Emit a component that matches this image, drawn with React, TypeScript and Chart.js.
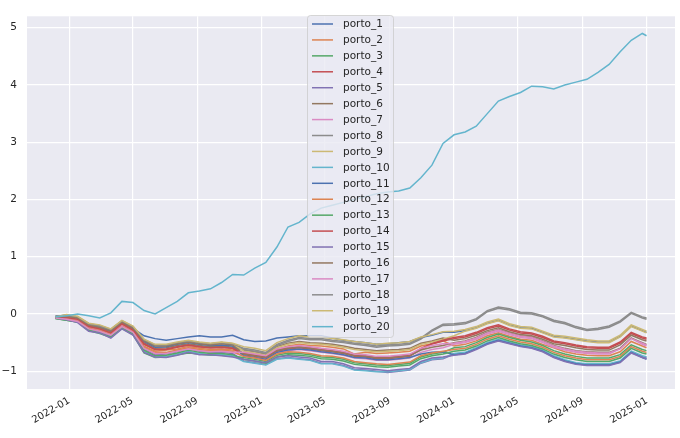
import { useEffect, useRef } from 'react';
import { Chart, registerables } from 'chart.js';

Chart.register(...registerables);

// sample dates (every 3 weeks)
const dates = [
  '2021-12-06', '2021-12-27', '2022-01-17', '2022-02-07', '2022-02-28', '2022-03-21', '2022-04-11', '2022-05-02',
  '2022-05-23', '2022-06-13', '2022-07-04', '2022-07-25', '2022-08-15', '2022-09-05', '2022-09-26', '2022-10-17',
  '2022-11-07', '2022-11-28', '2022-12-19', '2023-01-09', '2023-01-30', '2023-02-20', '2023-03-13', '2023-04-03',
  '2023-04-24', '2023-05-15', '2023-06-05', '2023-06-26', '2023-07-17', '2023-08-07', '2023-08-28', '2023-09-18',
  '2023-10-09', '2023-10-30', '2023-11-20', '2023-12-11', '2024-01-01', '2024-01-22', '2024-02-12', '2024-03-04',
  '2024-03-25', '2024-04-15', '2024-05-06', '2024-05-27', '2024-06-17', '2024-07-08', '2024-07-29', '2024-08-19',
  '2024-09-09', '2024-09-30', '2024-10-21', '2024-11-11', '2024-12-02', '2024-12-23', '2024-12-31',
];

const xTickDates = [
  '2022-01-01', '2022-05-01', '2022-09-01', '2023-01-01', '2023-05-01',
  '2023-09-01', '2024-01-01', '2024-05-01', '2024-09-01', '2025-01-01',
];
const xRange = ['2021-10-13', '2025-02-23'];
const yTicks = [-1, 0, 1, 2, 3, 4, 5];
const yRange = [-1.31, 5.2];

const names = [
  'porto_1', 'porto_2', 'porto_3', 'porto_4', 'porto_5', 'porto_6', 'porto_7', 'porto_8', 'porto_9', 'porto_10',
  'porto_11', 'porto_12', 'porto_13', 'porto_14', 'porto_15', 'porto_16', 'porto_17', 'porto_18', 'porto_19', 'porto_20',
];
const colors = [
  '#4C72B0', '#DD8452', '#55A868', '#C44E52', '#8172B3', '#937860', '#DA8BC3', '#8C8C8C', '#CCB974', '#64B5CD',
  '#4C72B0', '#DD8452', '#55A868', '#C44E52', '#8172B3', '#937860', '#DA8BC3', '#8C8C8C', '#CCB974', '#64B5CD',
];

const porto1 = [-0.05, -0.03, -0.06, -0.19, -0.22, -0.29, -0.13, -0.25, -0.38, -0.43, -0.46, -0.43, -0.40, -0.38, -0.40, -0.40, -0.37, -0.45,
  -0.48, -0.47, -0.42, -0.40, -0.38, -0.38, -0.38, -0.42, -0.46, -0.48, -0.50, -0.53, -0.52, -0.50, -0.48,
  -0.41, -0.37, -0.32, -0.32, -0.29, -0.24, -0.16, -0.11, -0.19, -0.24, -0.25, -0.32, -0.39, -0.41, -0.44, -0.47, -0.49, -0.49, -0.39, -0.21, -0.29, -0.32];
const porto2 = [-0.06, -0.06, -0.10, -0.23, -0.27, -0.34, -0.19, -0.29, -0.56, -0.65, -0.63, -0.61, -0.57, -0.60, -0.62, -0.61, -0.63, -0.68,
  -0.71, -0.75, -0.62, -0.56, -0.53, -0.55, -0.56, -0.58, -0.61, -0.70, -0.67, -0.69, -0.68, -0.67, -0.65, -0.56, -0.52, -0.47,
  -0.56, -0.53, -0.47, -0.38, -0.33, -0.39, -0.44, -0.46, -0.53, -0.59, -0.66, -0.70, -0.72, -0.73, -0.73, -0.66, -0.48, -0.56, -0.59];
const porto3 = [-0.08, -0.11, -0.14, -0.29, -0.34, -0.41, -0.25, -0.36, -0.68, -0.76, -0.75, -0.71, -0.68, -0.70, -0.72, -0.72, -0.74, -0.76,
  -0.79, -0.83, -0.72, -0.68, -0.69, -0.71, -0.75, -0.76, -0.79, -0.85, -0.87, -0.89, -0.90, -0.88, -0.86, -0.75, -0.70, -0.67,
  -0.59, -0.57, -0.50, -0.41, -0.35, -0.41, -0.46, -0.49, -0.55, -0.64, -0.70, -0.74, -0.77, -0.77, -0.77, -0.71, -0.54, -0.62, -0.64];
const porto4 = [-0.05, -0.03, -0.07, -0.20, -0.24, -0.31, -0.16, -0.26, -0.53, -0.62, -0.62, -0.58, -0.54, -0.57, -0.59, -0.58, -0.60, -0.71,
  -0.74, -0.77, -0.65, -0.61, -0.59, -0.61, -0.64, -0.66, -0.69, -0.74, -0.75, -0.78, -0.78, -0.76, -0.74, -0.60, -0.52, -0.47,
  -0.43, -0.40, -0.34, -0.26, -0.21, -0.28, -0.33, -0.35, -0.41, -0.49, -0.52, -0.56, -0.59, -0.60, -0.60, -0.51, -0.34, -0.42, -0.44];
const porto5 = [-0.07, -0.09, -0.12, -0.26, -0.31, -0.38, -0.22, -0.33, -0.61, -0.71, -0.70, -0.66, -0.61, -0.65, -0.67, -0.67, -0.69, -0.82,
  -0.85, -0.88, -0.78, -0.76, -0.78, -0.80, -0.86, -0.86, -0.90, -0.97, -0.98, -1.00, -1.02, -1.00, -0.98, -0.86, -0.80, -0.78,
  -0.70, -0.68, -0.60, -0.51, -0.45, -0.50, -0.55, -0.58, -0.64, -0.74, -0.81, -0.86, -0.88, -0.88, -0.88, -0.83, -0.66, -0.74, -0.76];
const porto6 = [-0.05, -0.04, -0.07, -0.20, -0.24, -0.31, -0.15, -0.26, -0.50, -0.60, -0.59, -0.55, -0.52, -0.55, -0.57, -0.56, -0.58, -0.63,
  -0.66, -0.70, -0.57, -0.51, -0.48, -0.50, -0.51, -0.53, -0.56, -0.60, -0.62, -0.64, -0.63, -0.62, -0.60, -0.51, -0.47, -0.42,
  -0.46, -0.43, -0.37, -0.29, -0.24, -0.31, -0.36, -0.38, -0.44, -0.52, -0.55, -0.59, -0.62, -0.63, -0.63, -0.54, -0.37, -0.45, -0.47];
const porto7 = [-0.05, -0.07, -0.10, -0.24, -0.29, -0.36, -0.20, -0.31, -0.59, -0.69, -0.68, -0.64, -0.59, -0.63, -0.65, -0.65, -0.67, -0.74,
  -0.77, -0.80, -0.68, -0.64, -0.62, -0.64, -0.67, -0.69, -0.72, -0.77, -0.78, -0.81, -0.81, -0.79, -0.77, -0.67, -0.62, -0.59,
  -0.53, -0.50, -0.44, -0.35, -0.30, -0.36, -0.41, -0.43, -0.50, -0.58, -0.63, -0.67, -0.69, -0.70, -0.70, -0.60, -0.42, -0.53, -0.56];
const porto8 = [-0.05, -0.03, -0.06, -0.18, -0.21, -0.28, -0.13, -0.23, -0.46, -0.55, -0.55, -0.51, -0.48, -0.51, -0.53, -0.51, -0.53, -0.62,
  -0.65, -0.69, -0.55, -0.48, -0.43, -0.45, -0.45, -0.48, -0.50, -0.53, -0.55, -0.58, -0.56, -0.55, -0.53,
  -0.44, -0.30, -0.20, -0.19, -0.17, -0.10, 0.04, 0.10, 0.07, 0.01, 0.00, -0.05, -0.13, -0.17, -0.24, -0.29, -0.27, -0.23, -0.14, 0.01, -0.07, -0.09];
const porto9 = [-0.04, -0.02, -0.05, -0.17, -0.20, -0.27, -0.12, -0.22, -0.45, -0.54, -0.54, -0.50, -0.47, -0.50, -0.52, -0.50, -0.52, -0.65,
  -0.68, -0.72, -0.59, -0.53, -0.50, -0.52, -0.53, -0.55, -0.58, -0.62, -0.64, -0.66, -0.65, -0.64, -0.62, -0.53, -0.49, -0.44,
  -0.38, -0.30, -0.25, -0.17, -0.12, -0.20, -0.25, -0.26, -0.33, -0.40, -0.42, -0.45, -0.48, -0.50, -0.50, -0.40, -0.22, -0.30, -0.33];
const porto10 = [-0.07, -0.10, -0.13, -0.28, -0.33, -0.40, -0.24, -0.35, -0.65, -0.75, -0.74, -0.70, -0.65, -0.69, -0.71, -0.71, -0.73, -0.83,
  -0.86, -0.89, -0.79, -0.77, -0.79, -0.81, -0.87, -0.87, -0.91, -0.98, -0.99, -1.01, -1.01, -0.99, -0.97, -0.85, -0.79, -0.77,
  -0.69, -0.67, -0.59, -0.50, -0.44, -0.49, -0.54, -0.57, -0.63, -0.73, -0.80, -0.85, -0.87, -0.87, -0.87, -0.82, -0.65, -0.73, -0.75];
const porto11 = [-0.04, -0.02, -0.05, -0.18, -0.22, -0.29, -0.13, -0.24, -0.48, -0.58, -0.57, -0.53, -0.50, -0.53, -0.55, -0.54, -0.56, -0.73,
  -0.76, -0.79, -0.67, -0.63, -0.61, -0.63, -0.66, -0.68, -0.71, -0.76, -0.77, -0.80, -0.80, -0.78, -0.76, -0.70, -0.67, -0.66,
  -0.71, -0.69, -0.61, -0.52, -0.46, -0.51, -0.56, -0.59, -0.65, -0.75, -0.82, -0.87, -0.89, -0.89, -0.89, -0.84, -0.67, -0.76, -0.79];
const porto12 = [-0.07, -0.08, -0.12, -0.25, -0.29, -0.36, -0.21, -0.31, -0.58, -0.67, -0.67, -0.63, -0.59, -0.62, -0.64, -0.63, -0.65, -0.74,
  -0.77, -0.81, -0.70, -0.66, -0.67, -0.69, -0.73, -0.74, -0.77, -0.83, -0.85, -0.87, -0.88, -0.86, -0.84, -0.73, -0.68, -0.65,
  -0.62, -0.60, -0.53, -0.44, -0.38, -0.44, -0.49, -0.52, -0.58, -0.67, -0.73, -0.77, -0.80, -0.80, -0.80, -0.74, -0.57, -0.65, -0.67];
const porto13 = [-0.08, -0.11, -0.14, -0.28, -0.33, -0.40, -0.24, -0.35, -0.63, -0.73, -0.72, -0.68, -0.63, -0.67, -0.69, -0.69, -0.71, -0.79,
  -0.82, -0.86, -0.75, -0.71, -0.72, -0.74, -0.78, -0.79, -0.82, -0.88, -0.90, -0.92, -0.93, -0.91, -0.89, -0.78, -0.73, -0.70,
  -0.65, -0.63, -0.56, -0.47, -0.41, -0.47, -0.52, -0.55, -0.61, -0.70, -0.76, -0.80, -0.83, -0.83, -0.83, -0.77, -0.60, -0.68, -0.70];
const porto14 = [-0.07, -0.06, -0.09, -0.22, -0.26, -0.33, -0.17, -0.28, -0.52, -0.62, -0.61, -0.57, -0.54, -0.57, -0.59, -0.58, -0.60, -0.69,
  -0.72, -0.75, -0.63, -0.59, -0.57, -0.59, -0.62, -0.64, -0.67, -0.72, -0.73, -0.76, -0.76, -0.74, -0.72, -0.62, -0.52, -0.46,
  -0.41, -0.38, -0.32, -0.24, -0.19, -0.26, -0.31, -0.33, -0.39, -0.47, -0.50, -0.54, -0.57, -0.58, -0.58, -0.49, -0.32, -0.40, -0.42];
const porto15 = [-0.07, -0.10, -0.15, -0.30, -0.33, -0.42, -0.26, -0.37, -0.67, -0.75, -0.76, -0.72, -0.67, -0.71, -0.71, -0.73, -0.75, -0.79,
  -0.82, -0.85, -0.75, -0.73, -0.75, -0.77, -0.83, -0.83, -0.87, -0.94, -0.95, -0.97, -0.99, -0.97, -0.95, -0.83, -0.77, -0.75,
  -0.72, -0.70, -0.62, -0.53, -0.47, -0.52, -0.57, -0.60, -0.66, -0.76, -0.83, -0.88, -0.90, -0.90, -0.90, -0.85, -0.68, -0.76, -0.78];
const porto16 = [-0.06, -0.04, -0.07, -0.19, -0.22, -0.29, -0.14, -0.24, -0.47, -0.56, -0.56, -0.52, -0.49, -0.52, -0.54, -0.52, -0.54, -0.70,
  -0.73, -0.76, -0.64, -0.60, -0.58, -0.60, -0.63, -0.65, -0.68, -0.73, -0.74, -0.77, -0.77, -0.75, -0.73, -0.63, -0.58, -0.55,
  -0.50, -0.47, -0.41, -0.32, -0.27, -0.33, -0.38, -0.40, -0.47, -0.55, -0.60, -0.64, -0.66, -0.67, -0.67, -0.60, -0.42, -0.50, -0.53];
const porto17 = [-0.07, -0.09, -0.13, -0.26, -0.30, -0.37, -0.22, -0.32, -0.60, -0.69, -0.69, -0.65, -0.61, -0.64, -0.66, -0.65, -0.67, -0.67,
  -0.70, -0.73, -0.61, -0.57, -0.55, -0.57, -0.60, -0.62, -0.65, -0.70, -0.71, -0.74, -0.74, -0.72, -0.70, -0.60, -0.55, -0.52,
  -0.51, -0.48, -0.42, -0.33, -0.28, -0.34, -0.39, -0.41, -0.48, -0.56, -0.61, -0.65, -0.67, -0.68, -0.68, -0.61, -0.43, -0.51, -0.54];
const porto18 = [-0.04, -0.02, -0.05, -0.17, -0.21, -0.27, -0.12, -0.22, -0.45, -0.54, -0.54, -0.50, -0.47, -0.50, -0.52, -0.50, -0.52, -0.60,
  -0.63, -0.67, -0.53, -0.46, -0.41, -0.43, -0.43, -0.46, -0.48, -0.51, -0.53, -0.56, -0.54, -0.53, -0.51,
  -0.42, -0.28, -0.18, -0.17, -0.15, -0.08, 0.06, 0.12, 0.09, 0.03, 0.02, -0.03, -0.11, -0.15, -0.22, -0.27, -0.25, -0.21, -0.12, 0.03, -0.05, -0.07];
const porto19 = [-0.05, -0.01, -0.04, -0.16, -0.19, -0.26, -0.11, -0.21, -0.44, -0.53, -0.53, -0.49, -0.46, -0.49, -0.51, -0.49, -0.51, -0.57,
  -0.60, -0.64, -0.50, -0.43, -0.38, -0.40, -0.40, -0.43, -0.45, -0.48, -0.50, -0.53, -0.51, -0.50, -0.48, -0.40, -0.36, -0.31,
  -0.30, -0.27, -0.22, -0.14, -0.09, -0.17, -0.22, -0.23, -0.30, -0.37, -0.39, -0.42, -0.45, -0.47, -0.47, -0.37, -0.19, -0.27, -0.30];
const porto20 = [-0.05, -0.03, 0.00, -0.03, -0.07, 0.02, 0.22, 0.20, 0.06, 0.00, 0.11, 0.22, 0.37, 0.40, 0.44, 0.55, 0.69, 0.68,
  0.80, 0.90, 1.17, 1.52, 1.60, 1.75, 1.85, 1.90, 1.95, 2.00, 2.05, 2.10, 2.13, 2.15, 2.20, 2.38, 2.60, 2.98,
  3.13, 3.18, 3.28, 3.50, 3.72, 3.80, 3.87, 3.98, 3.97, 3.93, 4.00, 4.05, 4.10, 4.22, 4.36, 4.58, 4.78, 4.90, 4.86];

const series = [
  porto1, porto2, porto3, porto4, porto5, porto6, porto7, porto8, porto9, porto10,
  porto11, porto12, porto13, porto14, porto15, porto16, porto17, porto18, porto19, porto20,
];

const day = (s: string) => Date.parse(s) / 86400000;
const textColor = '#262626';
const font = "'DejaVu Sans', sans-serif";

// grey plot background like seaborn darkgrid
const plotBackground = {
  id: 'plotBackground',
  beforeDraw(chart: any) {
    const { ctx, chartArea } = chart;
    ctx.save();
    ctx.fillStyle = '#EAEAF2';
    ctx.fillRect(chartArea.left, chartArea.top, chartArea.right - chartArea.left, chartArea.bottom - chartArea.top);
    ctx.restore();
  },
};

// legend drawn inside the axes, like matplotlib's
const insideLegend = {
  id: 'insideLegend',
  afterDatasetsDraw(chart: any) {
    const ctx = chart.ctx;
    const x = 307.5, y = 15.5, w = 86, h = 322;
    ctx.save();
    ctx.beginPath();
    ctx.roundRect(x, y, w, h, 3);
    ctx.fillStyle = 'rgba(234,234,242,0.8)';
    ctx.fill();
    ctx.strokeStyle = 'rgba(204,204,204,0.8)';
    ctx.lineWidth = 1;
    ctx.stroke();
    ctx.font = `10.5px ${font}`;
    ctx.textBaseline = 'middle';
    chart.data.datasets.forEach((ds: any, i: number) => {
      const cy = 24 + i * 15.93;
      ctx.strokeStyle = ds.borderColor;
      ctx.lineWidth = 1.5;
      ctx.beginPath();
      ctx.moveTo(312, cy);
      ctx.lineTo(333, cy);
      ctx.stroke();
      ctx.fillStyle = textColor;
      ctx.fillText(ds.label, 343, cy + 0.5);
    });
    ctx.restore();
  },
};

export default function App() {
  const chartRef = useRef<HTMLCanvasElement>(null);
  const chartInstance = useRef<Chart | null>(null);

  useEffect(() => {
    document.body.style.margin = '0';
    if (!chartRef.current) return;
    const ctx = chartRef.current.getContext('2d');
    if (!ctx) return;
    if (chartInstance.current) chartInstance.current.destroy();

    const datasets = series.map((values, i) => ({
      label: names[i],
      data: values.map((v, j) => ({ x: day(dates[j]), y: v })),
      borderColor: colors[i],
      backgroundColor: colors[i],
      borderWidth: 1.5,
      pointRadius: 0,
      tension: 0,
      order: series.length - i,
    }));

    chartInstance.current = new Chart(ctx, {
      type: 'line',
      data: { datasets },
      options: {
        responsive: false,
        animation: false,
        layout: { padding: { top: 11, right: 5, left: 0, bottom: 0 } },
        plugins: {
          legend: { display: false },
          tooltip: { enabled: false },
        },
        scales: {
          x: {
            type: 'linear',
            min: day(xRange[0]),
            max: day(xRange[1]),
            afterBuildTicks: (scale: any) => {
              scale.ticks = xTickDates.map((d) => ({ value: day(d) }));
            },
            afterFit: (scale: any) => {
              scale.height = 49;
            },
            grid: { color: '#ffffff', lineWidth: 1.2, drawTicks: false },
            border: { display: false },
            ticks: {
              autoSkip: false,
              minRotation: 30,
              maxRotation: 30,
              padding: 6,
              color: textColor,
              font: { family: font, size: 10 },
              callback: (value: any) => {
                const d = new Date(Number(value) * 86400000);
                return `${d.getUTCFullYear()}-${String(d.getUTCMonth() + 1).padStart(2, '0')}`;
              },
            },
          },
          y: {
            type: 'linear',
            min: yRange[0],
            max: yRange[1],
            afterBuildTicks: (scale: any) => {
              scale.ticks = yTicks.map((v) => ({ value: v }));
            },
            afterFit: (scale: any) => {
              scale.width = 27;
            },
            grid: { color: '#ffffff', lineWidth: 1.2, drawTicks: false },
            border: { display: false },
            ticks: {
              padding: 10,
              color: textColor,
              font: { family: font, size: 10.5 },
              callback: (value: any) => (Number(value) < 0 ? '\u2212' + Math.abs(Number(value)) : String(value)),
            },
          },
        },
      },
      plugins: [plotBackground, insideLegend],
    });

    return () => {
      if (chartInstance.current) {
        chartInstance.current.destroy();
        chartInstance.current = null;
      }
    };
  }, []);

  return (
    <div style={{ width: 680, height: 438, background: '#ffffff' }}>
      <canvas ref={chartRef} width={680} height={438} />
    </div>
  );
}
